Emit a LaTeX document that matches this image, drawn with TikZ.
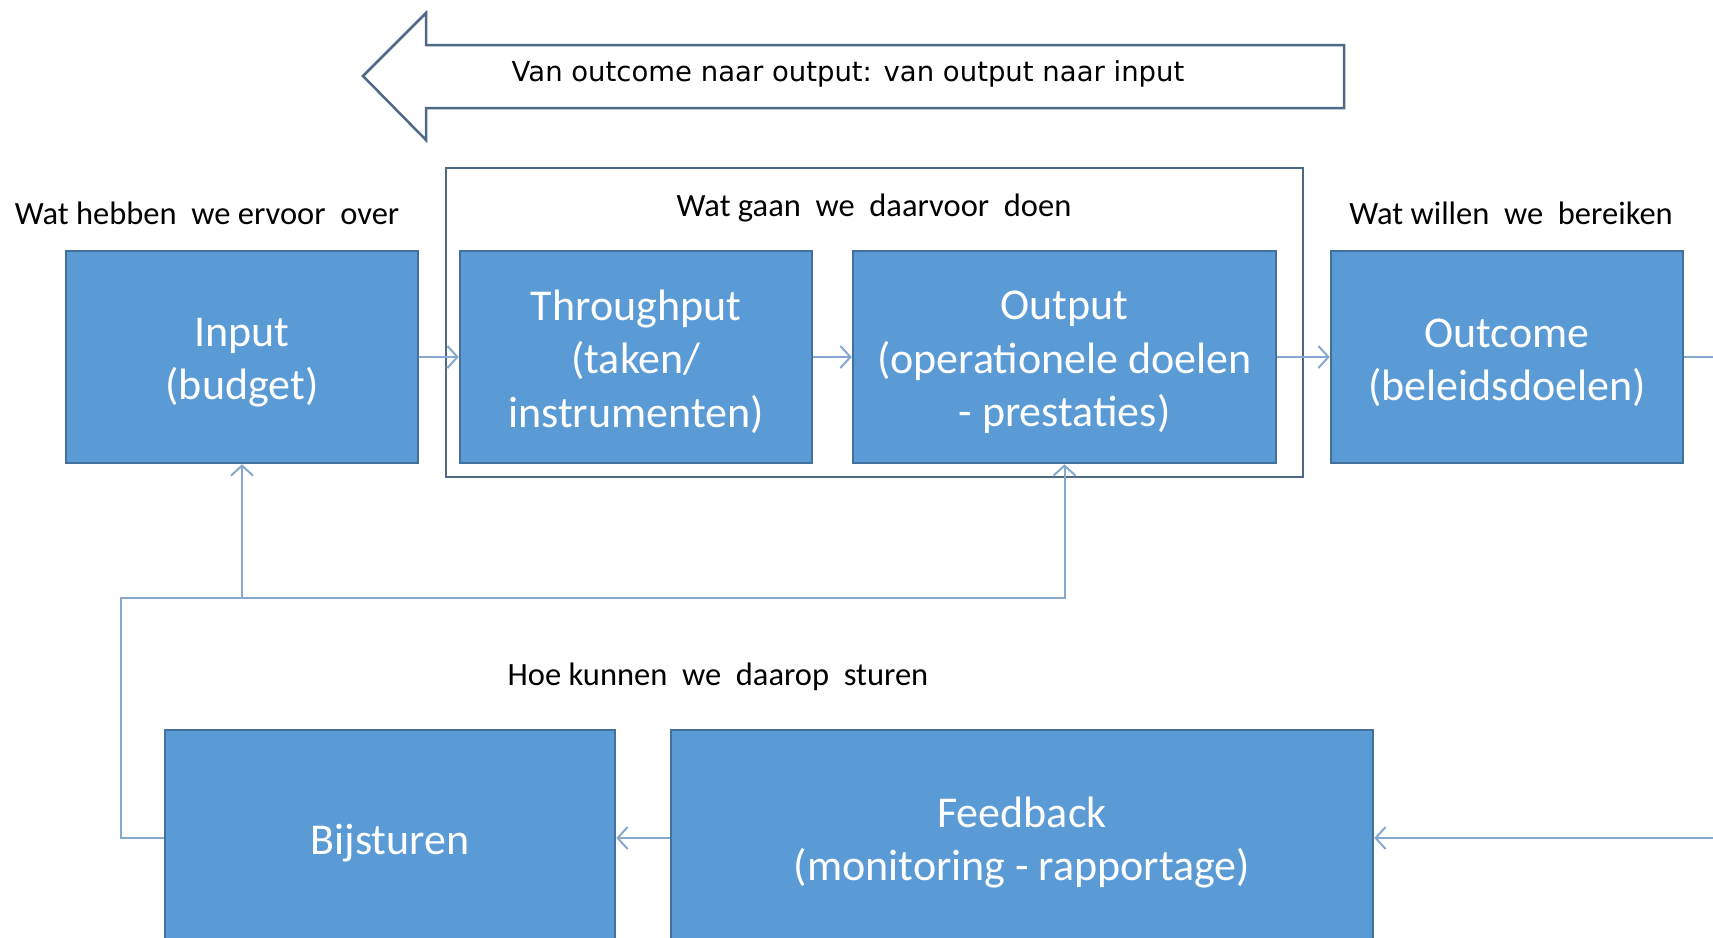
\documentclass[tikz,border=0pt]{standalone}
\usepackage{fontspec}
\setmainfont{Carlito}
\newfontfamily\pijlfont{DejaVu Sans}
\usetikzlibrary{arrows.meta,positioning}

\definecolor{boxblue}{HTML}{5B9BD5}
\definecolor{boxedge}{HTML}{41719C}
\definecolor{linkblue}{HTML}{86A8CE}
\definecolor{framegray}{HTML}{4E6985}
\newcommand\hoog{\rule{0pt}{40pt}}

\begin{document}
\begin{tikzpicture}[x=1pt,y=-1pt,->,>={Straight Barb[length=10pt,width=22pt]},
                    line width=2pt,linkblue]
  \tikzstyle{block}=[draw=boxedge,line width=2.5pt,fill=boxblue,text=white,
                     align=center,inner sep=0pt,minimum height=212pt,
                     minimum width=352pt,font=\fontsize{44}{53.5}\selectfont]
  \tikzstyle{vraag}=[text=black,inner sep=0pt,font=\fontsize{32.5}{38}\selectfont]

  \useasboundingbox (0,0) rectangle (1713,937);

  % big arrow on top
  \draw[-,framegray,line width=2.5pt,line join=miter]
    (363,76) -- (426,13) -- (426,45) -- (1344,45) -- (1344,108)
    -- (426,108) -- (426,140) -- cycle;
  \node[vraag,font=\pijlfont\fontsize{27.5}{33}\selectfont] (terug) at (848,74)
    {Van outcome naar output: van output naar input};

  % frame round throughput and output
  \node[-,draw=framegray,line width=2.5pt,minimum width=857pt,
        minimum height=309pt,inner sep=0pt] (groep) at (874.5,322.5) {};

  \node[block] (input) at (242,357) {\hoog Input\\(budget)};
  \node[block] (throughput) [right of=input,node distance=394pt]
    {\hoog Throughput\\(taken/\\instrumenten)};
  \node[block,minimum width=423pt] (output) [right of=throughput,node distance=428.5pt]
    {\hoog Output\\(operationele doelen\\- prestaties)};
  \node[block] (outcome) [right of=output,node distance=442.5pt]
    {\hoog Outcome\\(beleidsdoelen)};

  \node[block,minimum width=450pt,minimum height=216pt] (bijsturen) at (390,838) {\hoog Bijsturen};
  \node[block,minimum width=702pt,minimum height=216pt] (feedback)
    [right of=bijsturen,node distance=632pt] {\hoog Feedback\\(monitoring - rapportage)};

  \node[vraag] (over) at (207,213) {Wat hebben\ \ we ervoor\ \ over};
  \node[vraag] (doen) at (874,208) {Wat gaan\ \ we\ \ daarvoor\ \ doen};
  \node[vraag] (bereiken) at (1511,213) {Wat willen\ \ we\ \ bereiken};
  \node[vraag] (sturen) at (718,677) {Hoe kunnen\ \ we\ \ daarop\ \ sturen};

  \coordinate (hoek) at (121,598);
  \coordinate (uit) at (1713,357);
  \coordinate (terugin) at (1713,838);

  \path (input) edge (throughput)
        (throughput) edge (output)
        (output) edge (outcome);
  \draw[-] (outcome.east) -- (uit);
  \draw (terugin) -- (feedback.east);
  \draw (feedback.west) -- (bijsturen.east);
  \draw (bijsturen.west) -| (hoek) -| (output.south);
  \draw (input.south |- hoek) -- (input.south);
\end{tikzpicture}
\end{document}
